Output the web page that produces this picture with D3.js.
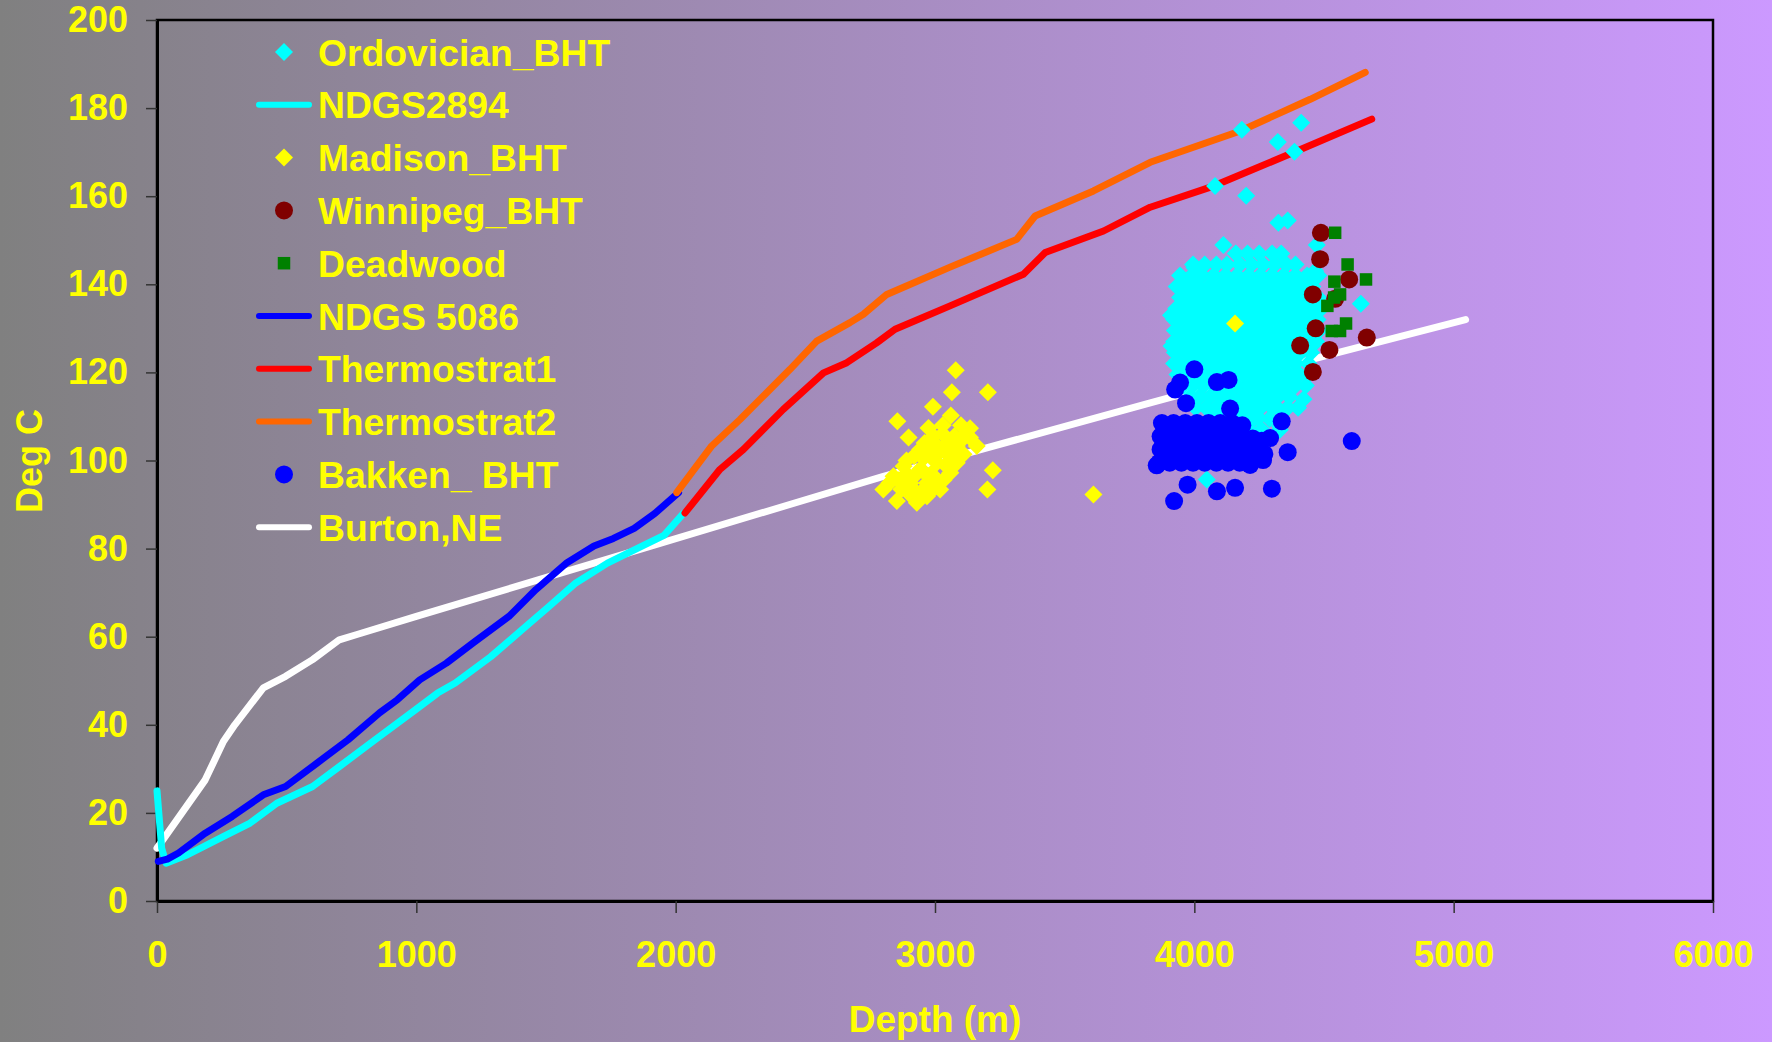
<!DOCTYPE html>
<html>
<head>
<meta charset="utf-8">
<script src="https://cdn.jsdelivr.net/npm/d3@7"></script>
<style>
  body { margin: 0; }
  svg { display: block; font-family: "Liberation Sans", Arial, sans-serif; font-weight: bold; }
</style>
</head>
<body>
<svg id="chart" width="1772" height="1042"></svg>
<script>
// ---- data (depth m, temperature deg C) ----
const depthTicks = [0, 1000, 2000, 3000, 4000, 5000, 6000];
const tempTicks = [0, 20, 40, 60, 80, 100, 120, 140, 160, 180, 200];

const ndgs2894 = [[0,25],[18,12],[35,8.6],[118,10.5],[255,14.6],[359,17.7],[462,22.2],[600,26],[703,30.5],[841,36.6],
  [996,43.4],[1082,47.2],[1150,49.5],[1288,55.5],[1408,61.6],[1512,66.9],[1615,72.2],[1737,76.7],[1874,80.7],[1955,83],[2030,88]];

const ndgs5086 = [[5,9],[40,9.5],[83,10.9],[186,15.4],[290,19.2],[410,24.1],[496,26],[617,31.3],[737,36.6],[858,42.7],
  [927,45.7],[1013,50.2],[1116,54],[1219,58.6],[1357,64.6],[1461,70.7],[1581,76.8],[1685,80.6],[1760,82.3],[1840,84.6],[1920,88],[2011,92.7]];

const burtonNE = [[0,12],[186,27.5],[256,36.2],[300,40],[410,48.4],[496,51],[600,54.8],[703,59.3],[771,60.5],[1000,64.6],
  [1901,80.5],[2801,96.4],[3830,113.1],[4408,122.3],[5046,132]];

const thermostrat1 = [[2036,88.1],[2171,98],[2261,102.5],[2415,111.6],[2570,119.9],[2660,122.2],[2775,126.7],[2846,129.8],
  [3058,135.1],[3341,142.3],[3425,147.2],[3650,152.1],[3830,157.5],[4074,162.3],[4382,169.9],[4684,177.5]];

const thermostrat2 = [[2004,92.7],[2139,103.3],[2248,109.3],[2351,115.4],[2441,120.7],[2544,127.1],[2672,131.3],[2724,133.2],
  [2814,137.7],[3058,143.9],[3315,150.2],[3386,155.5],[3611,161.2],[3830,167.7],[4177,174.8],[4447,182],[4659,188.1]];

const ordovicianBHT = [
  [4183,175.1],[4412,176.7],[4322,172.3],[4386,170.1],[4080,162.3],[4200,160.1],[4324,154],[4360,154.5],[4112,148.9],[4472,148.9],
  [4000,143.8],[4466,143],[4642,135.6],[4048,95.7],[4189,101.7],[4421,113.9],[4331,107.8],[4247,109.7],
  [3910,133],[3912,126],[3948,139.6],
  [4160,147],[4205,147],[4250,147],[4300,147],[4335,147],
  [3995,144.5],[4040,144.5],[4085,144.5],[4125,144.5],[4175,144.5],[4220,144.5],[4265,144.5],[4310,144.5],[4355,144.5],[4390,144.5],
  [3945,142],[3990,142],[4030,142],[4075,142],[4120,142],[4165,142],[4210,142],[4255,142],[4300,142],[4345,142],[4390,142],[4435,142],[4478,142],
  [3932,139.5],[3968,139.5],[4012,139.5],[4055,139.5],[4098,139.5],[4142,139.5],[4188,139.5],[4232,139.5],[4278,139.5],[4322,139.5],[4366,139.5],[4410,139.5],[4455,139.5],
  [3945,137],[3990,137],[4035,137],[4078,137],[4120,137],[4165,137],[4210,137],[4255,137],[4300,137],[4345,137],[4390,137],[4432,137],[4478,137],
  [3930,134.5],[3968,134.5],[4012,134.5],[4055,134.5],[4100,134.5],[4142,134.5],[4188,134.5],[4232,134.5],[4278,134.5],[4322,134.5],[4366,134.5],[4410,134.5],[4455,134.5],[4490,134.5],
  [3922,132],[3945,132],[3990,132],[4035,132],[4078,132],[4120,132],[4165,132],[4210,132],[4255,132],[4300,132],[4345,132],[4390,132],[4432,132],[4475,132],
  [3925,129.5],[3968,129.5],[4012,129.5],[4055,129.5],[4100,129.5],[4142,129.5],[4188,129.5],[4232,129.5],[4278,129.5],[4322,129.5],[4366,129.5],[4410,129.5],[4455,129.5],[4482,129.5],
  [3922,127],[3945,127],[3990,127],[4035,127],[4078,127],[4120,127],[4165,127],[4210,127],[4255,127],[4300,127],[4345,127],[4390,127],[4432,127],[4470,127],
  [3925,124.5],[3968,124.5],[4012,124.5],[4055,124.5],[4100,124.5],[4142,124.5],[4188,124.5],[4232,124.5],[4278,124.5],[4322,124.5],[4366,124.5],[4410,124.5],[4450,124.5],
  [3922,122],[3945,122],[3990,122],[4035,122],[4078,122],[4120,122],[4165,122],[4210,122],[4255,122],[4300,122],[4345,122],[4390,122],[4440,122],
  [3935,119.5],[3968,119.5],[4012,119.5],[4055,119.5],[4100,119.5],[4142,119.5],[4188,119.5],[4232,119.5],[4278,119.5],[4322,119.5],[4366,119.5],[4405,119.5],[4440,119.5],
  [3960,117],[3995,117],[4035,117],[4078,117],[4120,117],[4165,117],[4210,117],[4255,117],[4300,117],[4345,117],[4390,117],[4430,117],
  [3985,114.5],[4020,114.5],[4060,114.5],[4100,114.5],[4142,114.5],[4188,114.5],[4232,114.5],[4278,114.5],[4322,114.5],[4366,114.5],
  [4005,112],[4045,112],[4085,112],[4125,112],[4165,112],[4210,112],[4255,112],[4300,112],[4320,112],[4360,112],[4400,112],
  [4060,109.5],[4100,109.5],[4142,109.5],[4188,109.5],[4232,109.5],[4290,109.5],[4335,109.5],
  [4110,107],[4160,107],[4210,107],[4260,107],[4330,107]
];

const madisonBHT = [[3080,120.5],[3065,115.5],[3204,115.5],[2992,112.2],[2855,108.9],[3061,110.2],[2898,105.2],[2975,107.4],
  [3030,108],[3135,107.3],[3161,103.3],[3223,97.8],[3202,93.4],[2943,102.5],[3007,103.3],[3084,103.3],[3110,101.4],[2879,98.7],
  [2943,98],[3007,99.5],[3059,97.2],[2840,96.4],[2905,94.9],[2969,94.9],[3020,93.4],[2801,93.4],[2853,90.8],[2930,90.4],
  [2917,93.4],[3084,99.5],[2981,101],[3045,101.7],[2994,105.5],[3135,105.2],[2824,94.9],[2969,91.9],[3033,95.6],[3611,92.3],[4157,131.1],
  [2860,95.5],[2890,97],[2920,96.5],[2955,97.5],[2985,97],[3000,96],[2955,100.5],[2990,102.5],[3020,102],[3050,104],[3075,105.5],
  [3100,104.5],[3120,106],[3040,99],[3060,101],[2900,92.5],[2950,93],[2985,93],[2890,100],[2920,101],[2960,104],[3030,106],
  [3100,108],[2870,93.5]];

const winnipegBHT = [[4488,151.7],[4485,145.7],[4597,141.1],[4457,137.7],[4543,136.7],[4468,130],[4665,127.9],[4408,126.1],[4521,125.1],[4457,120.1]];

const deadwood = [[4543,151.7],[4591,144.5],[4540,140.6],[4662,141.1],[4562,137.7],[4539,137],[4513,135.1],[4585,131.1],[4530,129.4],[4562,129.4]];

const bakkenBHT = [
  [3945,117.7],[4000,120.7],[3926,116.1],[3968,113],[4087,117.8],[4132,118.3],[4138,111.8],[4337,108.9],[4292,105.1],[4360,101.9],
  [4607,104.4],[4265,100.1],[4299,93.6],[4157,93.8],[4087,93],[3974,94.5],[3922,90.8],[3855,98.9],
  [3875,108.5],[3920,108.5],[3965,108.5],[4010,108.5],[4055,108.5],[4100,108.5],[4145,108.5],[4185,108],
  [3870,105.5],[3915,105.5],[3960,105.5],[4005,105.5],[4050,105.5],[4095,105.5],[4140,105.5],[4185,105.5],[4225,105],[4260,104.5],
  [3870,102.5],[3915,102.5],[3960,102.5],[4005,102.5],[4050,102.5],[4095,102.5],[4140,102.5],[4185,102.5],[4230,102],[4270,101.5],
  [3865,99.5],[3905,99.5],[3950,99.5],[3995,99.5],[4040,99.5],[4085,99.5],[4130,99.5],[4175,99.5],[4215,99]
];

const legendNames = ["Ordovician_BHT", "NDGS2894", "Madison_BHT", "Winnipeg_BHT", "Deadwood",
  "NDGS 5086", "Thermostrat1", "Thermostrat2", "Bakken_ BHT", "Burton,NE"];

// ---- styles ----
const YELLOW = "#ffff00";
const style = {
  "Ordovician_BHT": { kind: "diamond", color: "#00ffff" },
  "NDGS2894": { kind: "line", color: "#00ffff" },
  "Madison_BHT": { kind: "diamond", color: "#ffff00" },
  "Winnipeg_BHT": { kind: "circle", color: "#800000" },
  "Deadwood": { kind: "square", color: "#008000" },
  "NDGS 5086": { kind: "line", color: "#0000ff" },
  "Thermostrat1": { kind: "line", color: "#ff0000" },
  "Thermostrat2": { kind: "line", color: "#ff6600" },
  "Bakken_ BHT": { kind: "circle", color: "#0000ff" },
  "Burton,NE": { kind: "line", color: "#ffffff" }
};

const svg = d3.select("#chart");
const W = 1772, H = 1042;
const plot = { left: 157, right: 1713, top: 20, bottom: 901 };

const grad = svg.append("defs").append("linearGradient").attr("id", "bg").attr("x1", 0).attr("x2", 1).attr("y1", 0).attr("y2", 0);
grad.append("stop").attr("offset", "0%").attr("stop-color", "#808080");
grad.append("stop").attr("offset", "100%").attr("stop-color", "#cc99ff");
svg.append("rect").attr("width", W).attr("height", H).attr("fill", "url(#bg)");

const x = d3.scaleLinear().domain([0, 6000]).range([plot.left, plot.right]);
const y = d3.scaleLinear().domain([0, 200]).range([plot.bottom, plot.top]);

// frame
svg.append("rect")
  .attr("x", plot.left).attr("y", plot.top)
  .attr("width", plot.right - plot.left).attr("height", plot.bottom - plot.top)
  .attr("fill", "none").attr("stroke", "#000").attr("stroke-width", 2.5);

const xAxis = svg.append("g")
  .attr("transform", `translate(0,${plot.bottom})`)
  .call(d3.axisBottom(x).tickValues(depthTicks).tickFormat(d3.format("d")).tickSize(12).tickSizeOuter(0).tickPadding(28));
const yAxis = svg.append("g")
  .attr("transform", `translate(${plot.left},0)`)
  .call(d3.axisLeft(y).tickValues(tempTicks).tickSize(11).tickSizeOuter(0).tickPadding(18));

[xAxis, yAxis].forEach((g) => {
  g.select(".domain").attr("stroke", "#000").attr("stroke-width", 3);
  g.selectAll(".tick line").attr("stroke", "#333").attr("stroke-width", 1.5);
  g.selectAll(".tick text").attr("fill", YELLOW).attr("font-size", 36).attr("font-weight", "bold")
    .attr("font-family", "'Liberation Sans', Arial, sans-serif");
});

svg.append("text").attr("x", (plot.left + plot.right) / 2).attr("y", 1032)
  .attr("text-anchor", "middle").attr("fill", YELLOW).attr("font-size", 37).text("Depth (m)");
svg.append("text").attr("transform", "translate(42,461) rotate(-90)")
  .attr("text-anchor", "middle").attr("fill", YELLOW).attr("font-size", 36).text("Deg C");

// ---- marks ----
const line = d3.line().x((d) => x(d[0])).y((d) => y(d[1])).curve(d3.curveLinear);
const marks = svg.append("g");

const lineSeries = [["Burton,NE", burtonNE], ["NDGS2894", ndgs2894], ["NDGS 5086", ndgs5086],
  ["Thermostrat1", thermostrat1], ["Thermostrat2", thermostrat2]];
lineSeries.forEach(([name, data]) => {
  marks.append("path").datum(data).attr("d", line)
    .attr("fill", "none").attr("stroke", style[name].color).attr("stroke-width", 7)
    .attr("stroke-linecap", "round").attr("stroke-linejoin", "round");
});

const DIAMOND_R = 9, CIRCLE_R = 9, SQUARE_S = 12.5;
function drawMarker(g, kind, color, cx, cy) {
  if (kind === "diamond") {
    g.append("path").attr("d", `M${cx},${cy - DIAMOND_R}L${cx + DIAMOND_R},${cy}L${cx},${cy + DIAMOND_R}L${cx - DIAMOND_R},${cy}Z`).attr("fill", color);
  } else if (kind === "circle") {
    g.append("circle").attr("cx", cx).attr("cy", cy).attr("r", CIRCLE_R).attr("fill", color);
  } else {
    g.append("rect").attr("x", cx - SQUARE_S / 2).attr("y", cy - SQUARE_S / 2).attr("width", SQUARE_S).attr("height", SQUARE_S).attr("fill", color);
  }
}

const scatterSeries = [["Ordovician_BHT", ordovicianBHT], ["Madison_BHT", madisonBHT], ["Bakken_ BHT", bakkenBHT],
  ["Winnipeg_BHT", winnipegBHT], ["Deadwood", deadwood]];
scatterSeries.forEach(([name, data]) => {
  const g = marks.append("g");
  data.forEach((d) => drawMarker(g, style[name].kind, style[name].color, x(d[0]), y(d[1])));
});

// ---- legend ----
const legend = svg.append("g");
legendNames.forEach((name, i) => {
  const cy = 52 + i * 52.8;
  const s = style[name];
  if (s.kind === "line") {
    legend.append("line").attr("x1", 259).attr("x2", 309).attr("y1", cy).attr("y2", cy)
      .attr("stroke", s.color).attr("stroke-width", 6).attr("stroke-linecap", "round");
  } else {
    drawMarker(legend, s.kind, s.color, 284, cy);
  }
  legend.append("text").attr("x", 318).attr("y", cy + 13.5)
    .attr("fill", YELLOW).attr("font-size", 37.3).text(name);
});
</script>
</body>
</html>
